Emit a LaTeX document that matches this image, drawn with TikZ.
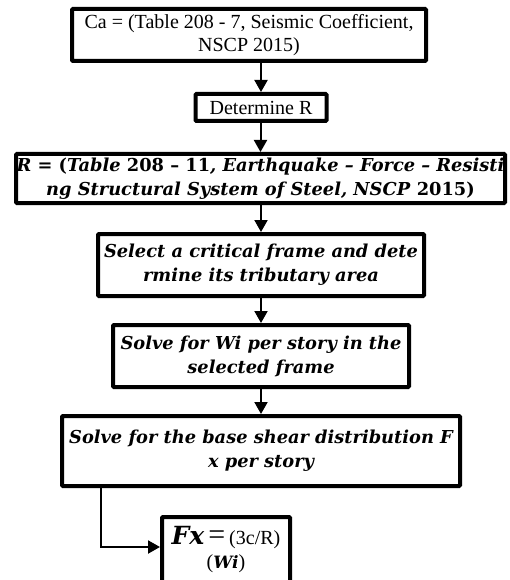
\documentclass[tikz,border=0pt]{standalone}
\usepackage{fontspec}
\setmainfont{Liberation Serif}
\newfontfamily\cambfont{DejaVu Serif}
\usetikzlibrary{arrows.meta}

\begin{document}
\begin{tikzpicture}[x=1pt,y=1pt,>={Triangle[width=13pt,length=12pt]},
    box/.style={draw,line width=4pt,rounded corners=1pt,align=center,inner sep=0pt},
    tnr/.style={font=\fontsize{20}{23}\selectfont},
    bi/.style={font=\cambfont\bfseries\itshape\fontsize{17.8}{24}\selectfont},
    flow/.style={->,line width=2pt}]
  \useasboundingbox (0,0) rectangle (509,-580);
  % boxes, top to bottom
  \node[box,tnr,minimum width=354pt,minimum height=52pt] (b1) at (249,-35)
    {Ca = (Table 208 - 7, Seismic Coefficient,\\NSCP 2015)};
  \node[box,tnr,minimum width=131pt,minimum height=27pt] (b2) at (261,-107.5)
    {Determine R};
  \node[box,bi,minimum width=489pt,minimum height=49pt] (b3) at (260.5,-178.5)
    {R = \textup{(}Table \textup{208 – 11}, Earthquake – Force – Resisti\\
     ng Structural System of Steel, NSCP \textup{2015)}};
  \node[box,bi,minimum width=326pt,minimum height=62pt] (b4) at (261,-265)
    {Select a critical frame and dete\\rmine its tributary area};
  \node[box,bi,minimum width=296pt,minimum height=62pt] (b5) at (261,-356)
    {Solve for Wi per story in the\\selected frame};
  \node[box,bi,minimum width=398pt,minimum height=70pt] (b6) at (261,-451)
    {Solve for the base shear distribution F\\x per story};
  \node[box,tnr,anchor=north,minimum width=128pt,text depth=30pt,inner ysep=9pt] (b7) at (226,-515)
    {{\cambfont\bfseries\itshape\fontsize{25}{25}\selectfont Fx}\hspace{4pt}%
     {\fontsize{30}{26}\selectfont =}\hspace{4pt}(3c/R)\\[1pt]
     ({\cambfont\bfseries\itshape\fontsize{17}{17}\selectfont Wi})};
  % connectors
  \draw[flow] (b1.south -| b2) -- (b2);
  \draw[flow] (b2.south -| b3) -- (b3);
  \draw[flow] (b3.south -| b4) -- (b4);
  \draw[flow] (b4.south -| b5) -- (b5);
  \draw[flow] (b5.south -| b6) -- (b6);
  \coordinate (k) at (101,-547);
  \draw[flow] (b6.south -| k) -- (k) -- (k -| b7.west);
\end{tikzpicture}
\end{document}
